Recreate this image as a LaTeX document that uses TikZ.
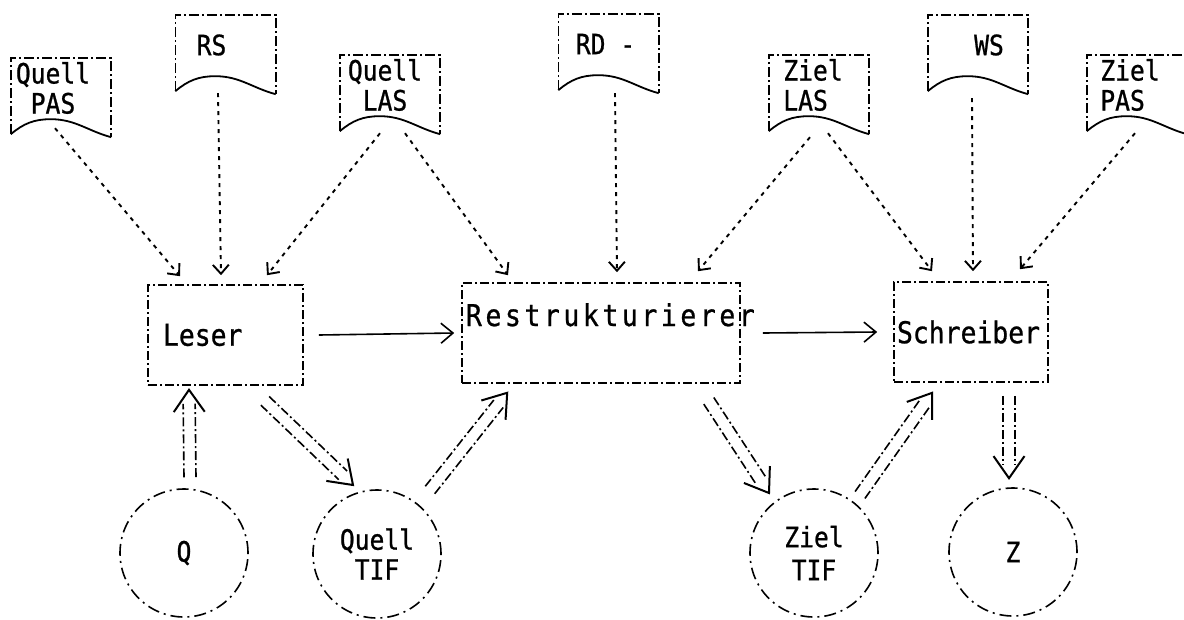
\documentclass[tikz,border=0pt]{standalone}
\usepackage{fontspec}
\usetikzlibrary{arrows.meta,calc}
\newfontfamily\typew[FakeStretch=0.88,FakeBold=0.8]{DejaVu Sans Mono}
\newfontfamily\typewide[FakeStretch=0.88,FakeBold=0.8,LetterSpace=12]{DejaVu Sans Mono}
\newcommand\boxfont{\typew\fontsize{30}{32}\selectfont}
\newcommand\docfont{\typew\fontsize{28}{30}\selectfont}

\tikzset{
  procbox/.style={rectangle, draw, line width=1.6pt,
    dash pattern=on 9pt off 3pt on 2pt off 3pt,
    inner ysep=0pt, minimum height=100pt, font=\boxfont},
  docframe/.style={rectangle, minimum width=100pt, minimum height=60pt, inner sep=0pt},
  doctext/.style={font=\docfont, inner sep=0pt, align=center},
  docside/.style={line width=1.6pt, dash pattern=on 10pt off 3pt on 2pt off 3pt},
  docwave/.style={line width=1.8pt},
  store/.style={circle, draw, line width=1.6pt,
    dash pattern=on 12pt off 5pt on 2pt off 5pt,
    minimum size=128pt, inner sep=0pt, font=\docfont, align=center},
  feedline/.style={line width=1.9pt, dash pattern=on 4pt off 5pt,
    -{Straight Barb[length=9pt,width=16pt]}},
  flowline/.style={line width=1.6pt, -{Straight Barb[length=12pt,width=20pt]}},
  railline/.style={line width=1.6pt, dash pattern=on 9pt off 3pt on 2pt off 3pt},
  railtip/.style={line width=2pt},
}

% double (data) arrow: two parallel dash-dotted rails and an open V head
\newcommand\railarrow[2]{%
  \path (#1) coordinate (ra-s) (#2) coordinate (ra-t);
  \coordinate (ra-e) at ($(ra-t)!14pt!(ra-s)$);
  \draw[railline] ($(ra-s)!6pt!90:(ra-e)$) -- ($(ra-e)!6pt!-90:(ra-s)$);
  \draw[railline] ($(ra-s)!6pt!-90:(ra-e)$) -- ($(ra-e)!6pt!90:(ra-s)$);
  \draw[railtip] ($(ra-t)!27pt!35:(ra-s)$) -- (ra-t) -- ($(ra-t)!27pt!-35:(ra-s)$);
}

\begin{document}
\begin{tikzpicture}[x=1pt,y=-1pt]
\useasboundingbox (0,0) rectangle (1184,619);
\fill[white] (0,0) rectangle (1184,619);

% processing units
\node[procbox, text width=125pt, align=left, inner xsep=15pt] (leser) at (225.5,335) {Leser};
\node[procbox, minimum width=278pt, inner xsep=0pt, text height=22pt, text depth=36pt]
  (restr) at (601,333) {\makebox[270pt][l]{\typewide Restrukturierer}};
\node[procbox, text width=148pt, align=left, inner xsep=3pt] (schr) at (971,332) {Schreiber};

% data stores
\node[store] (q) at (184,553) {Q};
\node[store] (qtif) at (377,554) {Quell\\TIF};
\node[store] (ztif) at (814,553) {Ziel\\[3pt]TIF};
\node[store] (z) at (1013,552) {Z};

% descriptive documents
\node[docframe] (qpas) at (61,88) {};
\node[doctext, xshift=-8pt] (qpas-t) at (qpas) {Quell\\PAS};
\node[docframe] (rs) at (225.5,45) {};
\node[doctext, xshift=-14pt] (rs-t) at (rs) {RS};
\node[docframe] (qlas) at (390,85) {};
\node[doctext, xshift=-5pt] (qlas-t) at (qlas) {Quell\\LAS};
\node[docframe] (rd) at (608.5,44) {};
\node[doctext, xshift=-3pt] (rd-t) at (rd) {RD -};
\node[docframe] (zlas) at (819,85) {};
\node[doctext, align=left, xshift=-6pt] (zlas-t) at (zlas) {Ziel\\LAS};
\node[docframe] (ws) at (978,45) {};
\node[doctext, xshift=11pt] (ws-t) at (ws) {WS};
\node[docframe] (zpas) at (1137,85) {};
\node[doctext, align=left, xshift=-7pt] (zpas-t) at (zpas) {Ziel\\PAS};

\foreach \d in {qpas,rs,qlas,rd,zlas,ws,zpas} {
  \draw[docside] ([yshift=-16pt]\d.south west) -- (\d.north west)
    -- (\d.north east) -- ([yshift=-19pt]\d.south east);
  \draw[docwave] ([yshift=-16pt]\d.south west) to[out=40,in=180]
    ([xshift=40pt,yshift=-1pt]\d.south west) to[out=0,in=165]
    ([yshift=-19pt]\d.south east);
}

% documents feeding the units
\draw[feedline] ([xshift=-6pt,yshift=-10pt]qpas.south) -- ([xshift=-45.5pt,yshift=8pt]leser.north);
\draw[feedline] ([xshift=-7.5pt,yshift=-18pt]rs.south) -- ([xshift=-4.5pt,yshift=9pt]leser.north);
\draw[feedline] ([xshift=-10pt,yshift=-18pt]qlas.south) -- ([xshift=41.5pt,yshift=9pt]leser.north);
\draw[feedline] ([xshift=15pt,yshift=-18pt]qlas.south) -- ([xshift=-93pt,yshift=7pt]restr.north);
\draw[feedline] ([xshift=6.5pt,yshift=-19pt]rd.south) -- ([xshift=16pt,yshift=10pt]restr.north);
\draw[feedline] ([xshift=-9pt,yshift=-22pt]zlas.south) -- ([xshift=97pt,yshift=11pt]restr.north);
\draw[feedline] ([xshift=9pt,yshift=-18pt]zlas.south) -- ([xshift=-39pt,yshift=10pt]schr.north);
\draw[feedline] ([xshift=-6pt,yshift=-23pt]ws.south) -- ([xshift=2pt,yshift=10pt]schr.north);
\draw[feedline] ([xshift=-2pt,yshift=-18pt]zpas.south) -- ([xshift=49pt,yshift=12pt]schr.north);

% control flow between the units
\draw[flowline] ([xshift=15pt]leser.east) -- ([xshift=-7pt]restr.west);
\draw[flowline] ([xshift=22pt]restr.east) -- ([xshift=-16pt]schr.west);

% data flow
\railarrow{[xshift=6pt,yshift=11pt]q.north}{[xshift=-36.5pt,yshift=-4pt]leser.south}
\railarrow{[xshift=39.5pt,yshift=-15pt]leser.south}{[xshift=-24pt,yshift=69pt]qtif.center}
\railarrow{[xshift=53pt,yshift=64pt]qtif.center}{[xshift=46pt,yshift=-9pt]restr.south west}
\railarrow{[xshift=-32pt,yshift=-17pt]restr.south east}{[xshift=-45pt,yshift=60pt]ztif.center}
\railarrow{[xshift=46pt,yshift=58pt]ztif.center}{[xshift=39pt,yshift=-10pt]schr.south west}
\railarrow{[xshift=38pt,yshift=-13pt]schr.south}{[xshift=-4pt,yshift=9pt]z.north}
\end{tikzpicture}
\end{document}
